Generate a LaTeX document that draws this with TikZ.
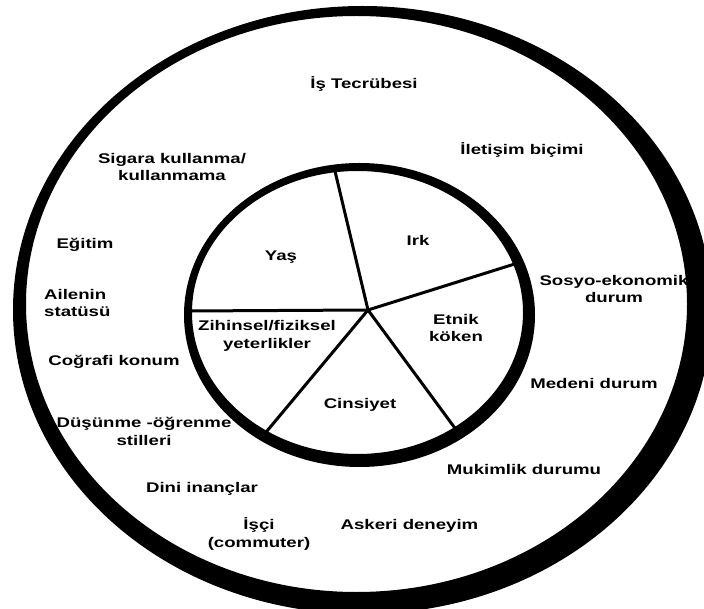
\documentclass[tikz,border=0pt]{standalone}
\usepackage{fontspec}
\setmainfont[FakeStretch=1.33]{Liberation Sans}
\begin{document}
\begin{tikzpicture}[x=1pt,y=-1pt,
  lbl/.style={align=center,inner sep=0pt,font=\fontsize{14}{17.5}\selectfont\bfseries},
  spoke/.style={line width=3pt}]
\useasboundingbox (0,0) rectangle (704,609);
\begin{scope}
\clip (0,0) rectangle (704,609);
\fill[white] (0,0) rectangle (704,609);
% outer ring
\fill[black,even odd rule] (362.5,310) ellipse [x radius=349.5, y radius=304]
  (356.5,304) ellipse [x radius=330.5, y radius=288];
\end{scope}
% inner ring
\fill[black,even odd rule] (359.5,315) ellipse [x radius=175.5, y radius=152]
  (357.5,312.5) ellipse [x radius=165.5, y radius=141.5];
% spokes
\coordinate (hub) at (368,310);
\coordinate (e1) at (334,167);
\coordinate (e2) at (521,262);
\coordinate (e3) at (460,435);
\coordinate (e4) at (262,437);
\coordinate (e5) at (188,311);
\foreach \e in {e1,e2,e3,e4,e5} \draw[spoke] (hub) -- (\e);
% inner labels
\node[lbl] (yas) at (281,257.5) {Yaş};
\node[lbl] (irk) at (418,240) {Irk};
\node[lbl] (etnik) at (456,328) {Etnik\\köken};
\node[lbl] (zihin) at (267,336) {Zihinsel/fiziksel\\yeterlikler};
\node[lbl] (cins) at (360,404.5) {Cinsiyet};
% outer labels
\node[lbl] (is) at (364,83.5) {İş Tecrübesi};
\node[lbl] (ilet) at (522,149.5) {İletişim biçimi};
\node[lbl] (sigara) at (172,167) {Sigara kullanma/\\kullanmama};
\node[lbl] (egitim) at (85,245) {Eğitim};
\node[lbl,align=left,anchor=west] (aile) at (44,303) {Ailenin\\statüsü};
\node[lbl] (cog) at (114,362) {Coğrafi konum};
\node[lbl] (dus) at (144,431.5) {Düşünme -öğrenme\\stilleri};
\node[lbl] (dini) at (202,488.5) {Dini inançlar};
\node[lbl] (isci) at (259,534) {İşçi\\(commuter)};
\node[lbl] (asker) at (409.5,526) {Askeri deneyim};
\node[lbl] (muk) at (524,469) {Mukimlik durumu};
\node[lbl] (med) at (594,383) {Medeni durum};
\node[lbl] (sosyo) at (614,289) {Sosyo-ekonomik\\durum};
\end{tikzpicture}
\end{document}
